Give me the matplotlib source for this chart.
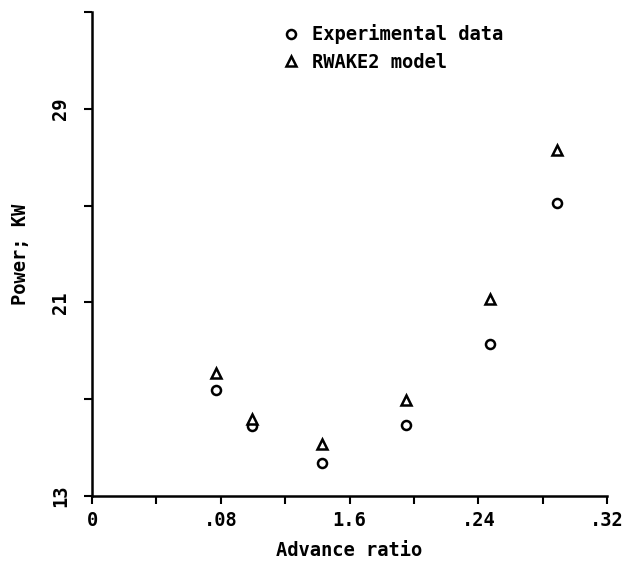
import matplotlib
matplotlib.use("Agg")
import matplotlib.pyplot as plt
from matplotlib.ticker import MultipleLocator, FixedLocator

advance_ratio = [0.077, 0.0995, 0.143, 0.195, 0.247, 0.289]
experimental = [17.4, 15.9, 14.35, 15.95, 19.3, 25.1]
rwake2 = [18.1, 16.2, 15.15, 16.95, 21.15, 27.3]
xtick_vals = [0, 0.08, 0.16, 0.24, 0.32]
xtick_labels = ["0", ".08", "1.6", ".24", ".32"]
ytick_vals = [13, 21, 29]
ytick_labels = ["13", "21", "29"]
ytick_minor = [17, 25, 33]

plt.rcParams['font.family'] = ['DejaVu Sans Mono']
FS = 13.5
fig = plt.figure(figsize=(6.39, 5.66), dpi=100)
ax = fig.add_axes([0.144, 0.1237, 0.806, 0.855])

ax.plot(advance_ratio, experimental, linestyle='none', marker='o', markersize=6.5,
        markerfacecolor='white', markeredgecolor='black', markeredgewidth=1.8,
        label='Experimental data')
ax.plot(advance_ratio, rwake2, linestyle='none', marker='^', markersize=6.5,
        markerfacecolor='white', markeredgecolor='black', markeredgewidth=1.8,
        label='RWAKE2 model')

ax.set_xlim(0, 0.32)
ax.set_ylim(13, 33)
for s in ['top', 'right']:
    ax.spines[s].set_visible(False)
for s in ['left', 'bottom']:
    ax.spines[s].set_linewidth(1.8)

ax.xaxis.set_major_locator(FixedLocator(xtick_vals))
ax.set_xticklabels(xtick_labels, fontsize=FS, fontweight='bold')
ax.xaxis.set_minor_locator(MultipleLocator(0.04))
ax.yaxis.set_major_locator(FixedLocator(ytick_vals))
ax.set_yticklabels(ytick_labels, fontsize=FS, fontweight='bold', rotation=90, va='center')
ax.yaxis.set_minor_locator(FixedLocator(ytick_minor))
ax.tick_params(which='both', direction='out', length=6, width=1.5)
ax.tick_params(axis='x', pad=5)
ax.tick_params(axis='y', pad=10)

ax.set_xlabel('Advance ratio', fontsize=FS, fontweight='bold', labelpad=8)
ax.set_ylabel('Power; KW', fontsize=FS, fontweight='bold', labelpad=15)

ax.legend(loc='upper left', bbox_to_anchor=(0.35, 0.99), frameon=False,
          prop={'size': FS, 'weight': 'bold'}, handletextpad=0.5,
          labelspacing=0.45, handlelength=1.2, borderaxespad=0.0)

fig.savefig('out.png', dpi=100)
